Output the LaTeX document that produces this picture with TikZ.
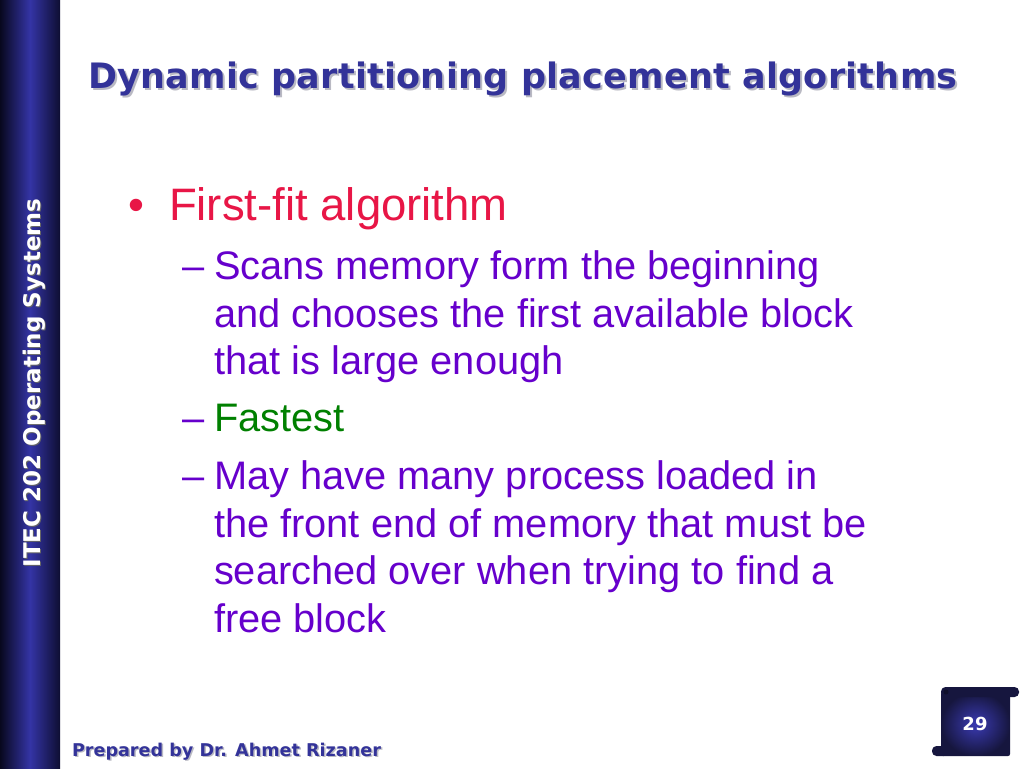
\documentclass[tikz,border=0pt]{standalone}
\usepackage{fontspec}
\setmainfont{Liberation Sans}
\newfontfamily\verd{DejaVu Sans}
\definecolor{titleblue}{RGB}{51,51,153}
\definecolor{redtxt}{RGB}{232,22,70}
\definecolor{purptxt}{RGB}{102,0,204}
\definecolor{greentxt}{RGB}{0,128,0}
\definecolor{bardark}{RGB}{8,8,30}
\definecolor{barmid}{RGB}{52,52,165}
\definecolor{barright}{RGB}{14,14,50}
\definecolor{scrolldark}{RGB}{22,22,62}
\definecolor{scrollin}{RGB}{58,58,178}
\definecolor{shadowgray}{RGB}{185,185,195}
\tikzset{
  txt/.style={anchor=base west, inner sep=0pt, outer sep=0pt},
  lvlone/.style={txt, font=\fontsize{45.5}{54}\selectfont, text=redtxt},
  lvltwo/.style={txt, font=\fontsize{39.8}{48}\selectfont, text=purptxt},
  titlefont/.style={txt, font=\verd\bfseries\fontsize{35}{40}\selectfont\addfontfeature{LetterSpace=0.7}},
  footfont/.style={txt, font=\verd\bfseries\fontsize{17.6}{20}\selectfont},
}
\begin{document}
\begin{tikzpicture}[x=1pt,y=-1pt]
\useasboundingbox (0,0) rectangle (1024,768);
\fill[white] (0,0) rectangle (1024,768);
% left bar
\shade[left color=bardark, right color=barright, middle color=barmid] (0,0) rectangle (60,768);
\node[anchor=base, inner sep=0pt, rotate=90, text=black!60, font=\verd\bfseries\fontsize{23}{28}\selectfont] (sideshadow) at (41,384) {ITEC 202 Operating Systems};
\node[anchor=base, inner sep=0pt, rotate=90, text=white, font=\verd\bfseries\fontsize{23}{28}\selectfont] (side) at (40,383) {ITEC 202 Operating Systems};
% title
\node[titlefont, text=shadowgray] (titleshadow) at (90,90) {Dynamic partitioning placement algorithms};
\node[titlefont, text=titleblue] (title) at (88,88) {Dynamic partitioning placement algorithms};
% bullets
\node[anchor=base, inner sep=0pt, font=\fontsize{45.5}{54}\selectfont, text=redtxt] (bul) at (136,220) {•};
\node[lvlone] (l1) at (169,220) {First-fit algorithm};
\node[lvltwo] (d1) at (182,279) {–};
\node[lvltwo] (a1) at (214,279) {Scans memory form the beginning};
\node[lvltwo] (a2) at (214,327) {and chooses the first available block};
\node[lvltwo] (a3) at (214,374) {that is large enough};
\node[lvltwo] (d2) at (182,431) {–};
\node[lvltwo, text=greentxt] (b1) at (214,431) {Fastest};
\node[lvltwo] (d3) at (182,489) {–};
\node[lvltwo] (c1) at (214,489) {May have many process loaded in};
\node[lvltwo] (c2) at (214,537) {the front end of memory that must be};
\node[lvltwo] (c3) at (214,584) {searched over when trying to find a};
\node[lvltwo] (c4) at (214,632) {free block};
% footer
\node[footfont, text=shadowgray] (footshadow) at (73.5,757.5) {Prepared by Dr. Ahmet Rizaner};
\node[footfont, text=titleblue] (foot) at (72,756) {Prepared by Dr. Ahmet Rizaner};
% page number scroll
\shade[inner color=scrollin, outer color=scrolldark, rounded corners=2pt] (941,692) rectangle (1010,756);
\fill[scrolldark, rounded corners=4.5pt] (941,687) rectangle (1019,697);
\fill[scrolldark!70!black] (946,692) circle (2.5);
\fill[scrolldark, rounded corners=4.5pt] (932,746) rectangle (948,756);
\node[inner sep=0pt, text=white, font=\verd\bfseries\fontsize{18}{20}\selectfont] (pnum) at (975,724) {29};
\end{tikzpicture}
\end{document}
